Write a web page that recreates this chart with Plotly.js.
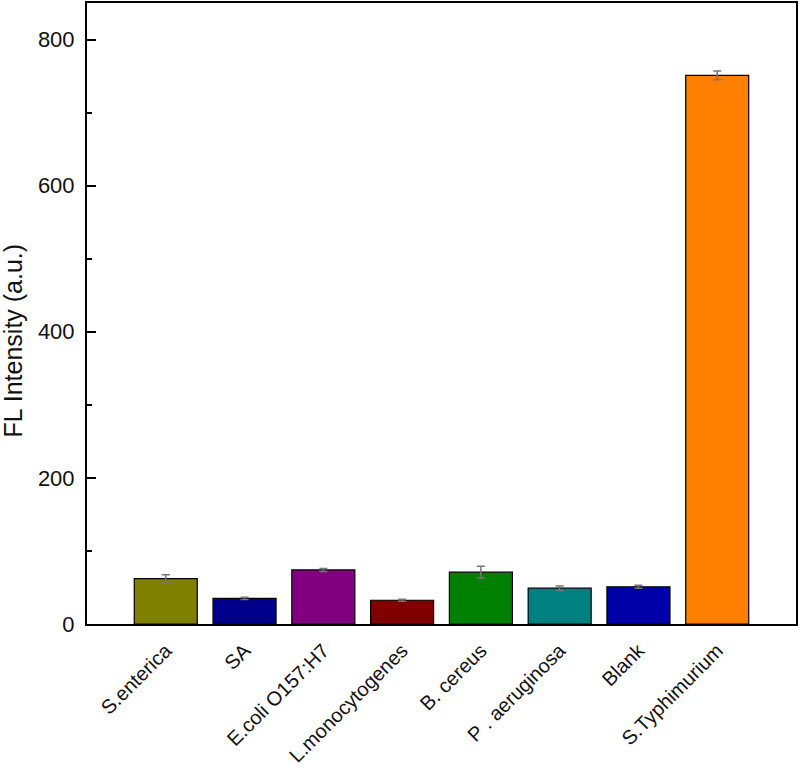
<!DOCTYPE html>
<html>
<head>
<meta charset="utf-8">
<script src="https://cdn.plot.ly/plotly-3.0.1.min.js"></script>
<style>html,body{margin:0;padding:0;background:#fff}#chart{width:800px;height:771px}</style>
</head>
<body>
<div id="chart"></div>
<script>
const categories = ["S.enterica", "SA", "E.coli O157:H7", "L.monocytogenes", "B. cereus", "P . aeruginosa", "Blank", "S.Typhimurium"];
const intensity = [62, 35, 74, 32.5, 71, 49, 51, 751];
const errors = [5.5, 1.5, 2, 1.5, 8, 3, 2, 6];
const barColors = ["#808000", "#00008B", "#800080", "#800000", "#008000", "#008080", "#0000A8", "#FF8000"];
const yTicks = [0, 200, 400, 600, 800];
const yTitle = "FL Intensity (a.u.)";

const trace = {
  type: "bar",
  x: categories,
  y: intensity,
  width: 0.8,
  marker: {color: barColors, line: {color: "#000", width: 1.2}},
  error_y: {type: "data", array: errors, visible: true, color: "#777", thickness: 1.5, width: 4}
};

const layout = {
  width: 800, height: 771,
  margin: {l: 87, r: 4, t: 3, b: 147},
  paper_bgcolor: "#fff", plot_bgcolor: "#fff",
  font: {family: "Liberation Sans, Arial, sans-serif", size: 18, color: "#000"},
  showlegend: false,
  xaxis: {
    type: "category", range: [-1, 8],
    tickangle: -45, ticks: "", showgrid: false, zeroline: false,
    showline: true, mirror: true, linecolor: "#000", linewidth: 2,
    tickfont: {size: 20, color: "#111"}, ticklabelstandoff: 5
  },
  yaxis: {
    range: [0, 850], tickvals: yTicks, ticks: "inside", ticklen: 9, tickwidth: 2, tickcolor: "#000",
    minor: {ticks: "inside", dtick: 100, tick0: 0, ticklen: 5, tickwidth: 2, tickcolor: "#000"},
    showgrid: false, zeroline: false, showline: true, mirror: true, linecolor: "#000", linewidth: 2,
    tickfont: {family: "Liberation Sans Narrow, Arial Narrow, sans-serif", size: 22, color: "#111"}, ticklabelstandoff: 6
  },
  annotations: [{
    text: yTitle, textangle: -90, showarrow: false,
    xref: "paper", yref: "paper", x: -0.104, y: 0.457,
    xanchor: "center", yanchor: "middle",
    font: {size: 25, color: "#111"}
  }]
};

Plotly.newPlot("chart", [trace], layout, {displayModeBar: false, staticPlot: true});
</script>
</body>
</html>
